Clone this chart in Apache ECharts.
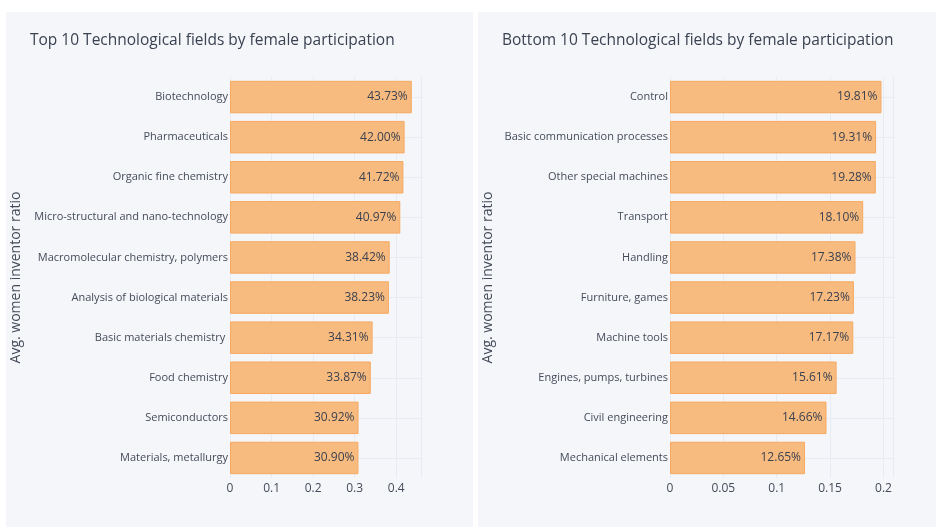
<!DOCTYPE html>
<html>
<head>
<meta charset="utf-8">
<script src="https://cdn.jsdelivr.net/npm/echarts@6/dist/echarts.min.js"></script>
<style>
html,body{margin:0;padding:0;background:#ffffff;}
#chart{width:936px;height:527px;}
</style>
</head>
<body>
<div id="chart"></div>
<script>
const topCategories = ["Biotechnology","Pharmaceuticals","Organic fine chemistry","Micro-structural and nano-technology","Macromolecular chemistry, polymers","Analysis of biological materials","Basic materials chemistry ","Food chemistry","Semiconductors","Materials, metallurgy"];
const topValues = [0.4373,0.4200,0.4172,0.4097,0.3842,0.3823,0.3431,0.3387,0.3092,0.3090];
const bottomCategories = ["Control","Basic communication processes","Other special machines","Transport","Handling","Furniture, games","Machine tools","Engines, pumps, turbines","Civil engineering","Mechanical elements"];
const bottomValues = [0.1981,0.1931,0.1928,0.1810,0.1738,0.1723,0.1717,0.1561,0.1466,0.1265];
const topTicks = [0,0.1,0.2,0.3,0.4];
const bottomTicks = [0,0.05,0.1,0.15,0.2];

const FONT = '"Open Sans", "DejaVu Sans", sans-serif';
const TXT = '#444b5a';
const GRIDC = '#e8ebf1';
const chart = echarts.init(document.getElementById('chart'), null, {renderer:'canvas'});

function xAxis(idx, max, interval, ticks){
  return {
    type:'value', gridIndex:idx, min:0, max:max, interval:interval,
    axisLine:{show:false}, axisTick:{show:false},
    splitLine:{show:true, lineStyle:{color:GRIDC, width:1}},
    axisLabel:{show:true, color:TXT, fontSize:12, fontFamily:FONT, margin:5,
      showMaxLabel:false,
      formatter:function(v){ for (const t of ticks){ if (Math.abs(t-v)<1e-9) return String(t);} return ''; }}
  };
}
function yAxis(idx, cats, gap){
  return {
    type:'category', gridIndex:idx, data:cats, inverse:true,
    axisLine:{show:false}, axisTick:{show:false},
    splitLine:{show:true, alignWithLabel:true, lineStyle:{color:GRIDC, width:1}},
    axisLabel:{color:TXT, fontSize:11, fontFamily:FONT, margin:2},
    name:'Avg. women inventor ratio', nameLocation:'middle', nameRotate:90,
    nameMoveOverlap:false,
    nameGap:gap, nameTextStyle:{color:TXT, fontSize:14, fontFamily:FONT}
  };
}
function barSeries(idx, vals){
  return {
    type:'bar', xAxisIndex:idx, yAxisIndex:idx, data:vals,
    barCategoryGap:'19%',
    itemStyle:{color:'#f8bb7f', borderColor:'#f6a961', borderWidth:1},
    label:{show:true, position:'insideRight', distance:4, color:'#3a4150', fontSize:12, fontFamily:FONT,
      formatter:function(p){ return (p.value*100).toFixed(2)+'%'; }},
    silent:true
  };
}

chart.setOption({
  animation:false,
  backgroundColor:'#ffffff',
  graphic:[
    {type:'rect', z:-10, shape:{x:6,y:12,width:467,height:515}, style:{fill:'#f5f6f9'}},
    {type:'rect', z:-10, shape:{x:478,y:12,width:458,height:515}, style:{fill:'#f5f6f9'}}
  ],
  title:[
    {text:'Top 10 Technological fields by female participation', left:25, top:28,
      textStyle:{color:'#3a4252', fontSize:15.5, fontWeight:'normal', fontFamily:FONT}},
    {text:'Bottom 10 Technological fields by female participation', left:497, top:28,
      textStyle:{color:'#3a4252', fontSize:15.5, fontWeight:'normal', fontFamily:FONT}}
  ],
  grid:[
    {left:230, top:77, width:191, height:401, containLabel:false},
    {left:670, top:77, width:223.5, height:401, containLabel:false}
  ],
  xAxis:[xAxis(0, 0.4595, 0.1, topTicks), xAxis(1, 0.2094, 0.05, bottomTicks)],
  yAxis:[yAxis(0, topCategories, 207), yAxis(1, bottomCategories, 175)],
  series:[barSeries(0, topValues), barSeries(1, bottomValues)]
});
</script>
</body>
</html>
